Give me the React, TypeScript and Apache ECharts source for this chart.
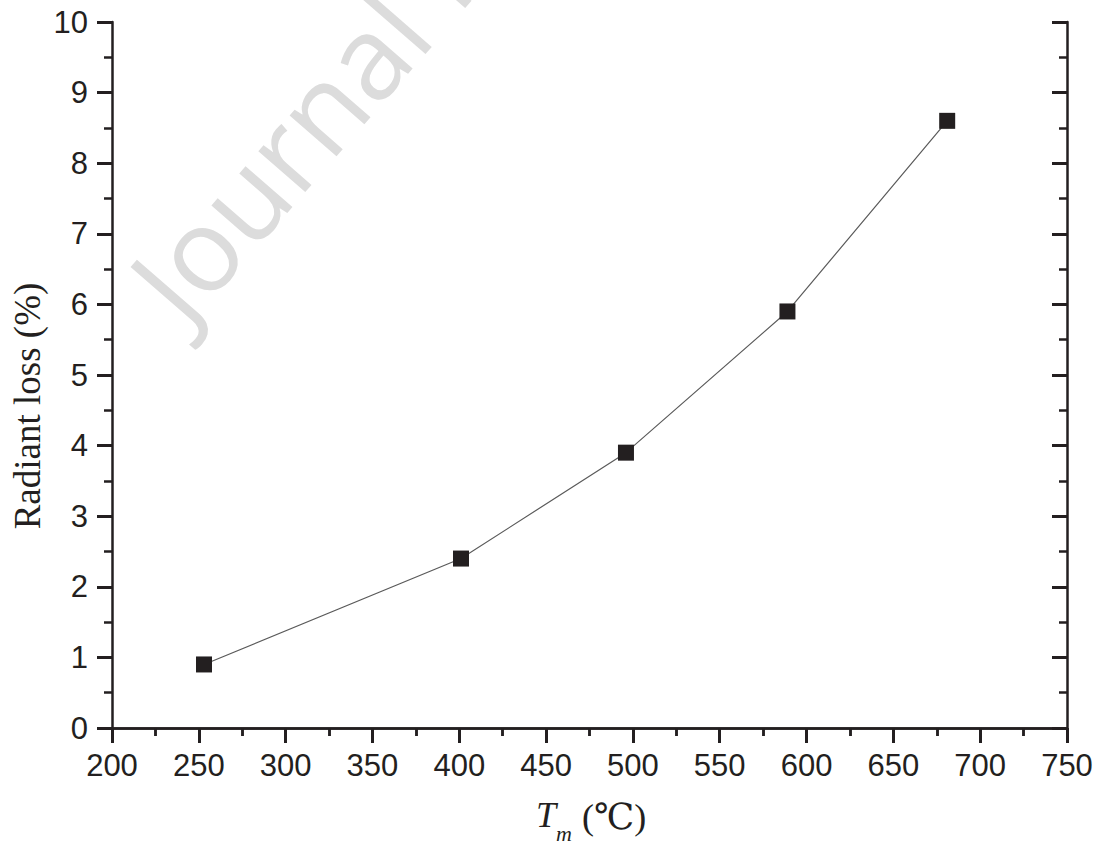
import React, { useEffect, useRef } from "react";
import * as echarts from "echarts";

const tempValues = [253, 401, 496, 589, 681];
const lossValues = [0.9, 2.4, 3.9, 5.9, 8.6];
const xMin = 200;
const xMax = 750;
const xStep = 50;
const yMin = 0;
const yMax = 10;
const yStep = 1;
const yTitle = "Radiant loss (%)";
const watermark = "Journal Pre-proof";

const INK = "#231f20";

export default function App() {
  const ref = useRef<HTMLDivElement>(null);
  useEffect(() => {
    if (!ref.current) return;
    const chart = echarts.init(ref.current, undefined, { renderer: "svg" });
    const data = tempValues.map((t, i) => [t, lossValues[i]]);
    const axisLine = { show: true, lineStyle: { color: INK, width: 2.5 } };
    const labelStyle = { fontFamily: "Liberation Sans", fontSize: 31, color: INK };
    const baseX = { type: "value", min: xMin, max: xMax, interval: xStep, splitLine: { show: false }, axisLine };
    const baseY = { type: "value", min: yMin, max: yMax, interval: yStep, splitLine: { show: false }, axisLine };
    chart.setOption({
      animation: false,
      backgroundColor: "#ffffff",
      grid: { left: 112, right: 35, top: 22, bottom: 119, containLabel: false },
      xAxis: [
        {
          ...baseX,
          position: "bottom",
          axisTick: { show: true, inside: false, length: 15, lineStyle: { color: INK, width: 3 } },
          minorTick: { show: true, splitNumber: 2, length: 8, lineStyle: { color: INK, width: 2.5 } },
          axisLabel: { ...labelStyle, margin: 22 },
        },
        {
          ...baseX,
          position: "top",
          axisTick: { show: true, inside: true, length: 15, lineStyle: { color: INK, width: 3 } },
          minorTick: { show: true, splitNumber: 2, length: 8, lineStyle: { color: INK, width: 2.5 } },
          axisLabel: { show: false },
        },
      ],
      yAxis: [
        {
          ...baseY,
          position: "left",
          axisTick: { show: true, inside: false, length: 15, lineStyle: { color: INK, width: 3 } },
          minorTick: { show: true, splitNumber: 2, length: 8, lineStyle: { color: INK, width: 2.5 } },
          axisLabel: { ...labelStyle, margin: 24 },
        },
        {
          ...baseY,
          position: "right",
          axisTick: { show: true, inside: true, length: 15, lineStyle: { color: INK, width: 3 } },
          minorTick: { show: true, splitNumber: 2, length: 8, lineStyle: { color: INK, width: 2.5 } },
          axisLabel: { show: false },
        },
      ],
      graphic: [
        {
          type: "text",
          z: -10,
          x: 152,
          y: 300,
          rotation: (49 * Math.PI) / 180,
          silent: true,
          style: {
            text: watermark,
            fontFamily: "Open Sans",
            fontSize: 116,
            fill: "#dcdcdc",
            align: "left",
            verticalAlign: "middle",
          },
        },
        {
          type: "text",
          x: 27,
          y: 406,
          rotation: Math.PI / 2,
          style: {
            text: yTitle,
            fontFamily: "Liberation Serif",
            fontSize: 37,
            fill: INK,
            align: "center",
            verticalAlign: "middle",
          },
        },
        {
          type: "text",
          x: 536,
          y: 815,
          style: {
            text: "T",
            fontFamily: "Liberation Serif",
            fontStyle: "italic",
            fontSize: 36,
            fill: INK,
            align: "left",
            verticalAlign: "middle",
          },
        },
        {
          type: "text",
          x: 556,
          y: 833,
          style: {
            text: "m",
            fontFamily: "Liberation Serif",
            fontStyle: "italic",
            fontSize: 22,
            fill: INK,
            align: "left",
            verticalAlign: "middle",
          },
        },
        {
          type: "text",
          x: 582,
          y: 817,
          style: {
            text: "(℃)",
            fontFamily: "'Liberation Serif', 'DejaVu Serif', serif",
            fontSize: 36,
            fill: INK,
            align: "left",
            verticalAlign: "middle",
          },
        },
      ],
      series: [
        {
          type: "line",
          xAxisIndex: 0,
          yAxisIndex: 0,
          data,
          symbol: "rect",
          symbolSize: 16,
          itemStyle: { color: INK },
          lineStyle: { color: "#5a5a5a", width: 1.2 },
          z: 5,
        },
      ],
    });
    return () => chart.dispose();
  }, []);
  return (
    <div
      ref={ref}
      style={{ position: "fixed", left: 0, top: 0, width: 1102, height: 847, background: "#fff" }}
    />
  );
}
